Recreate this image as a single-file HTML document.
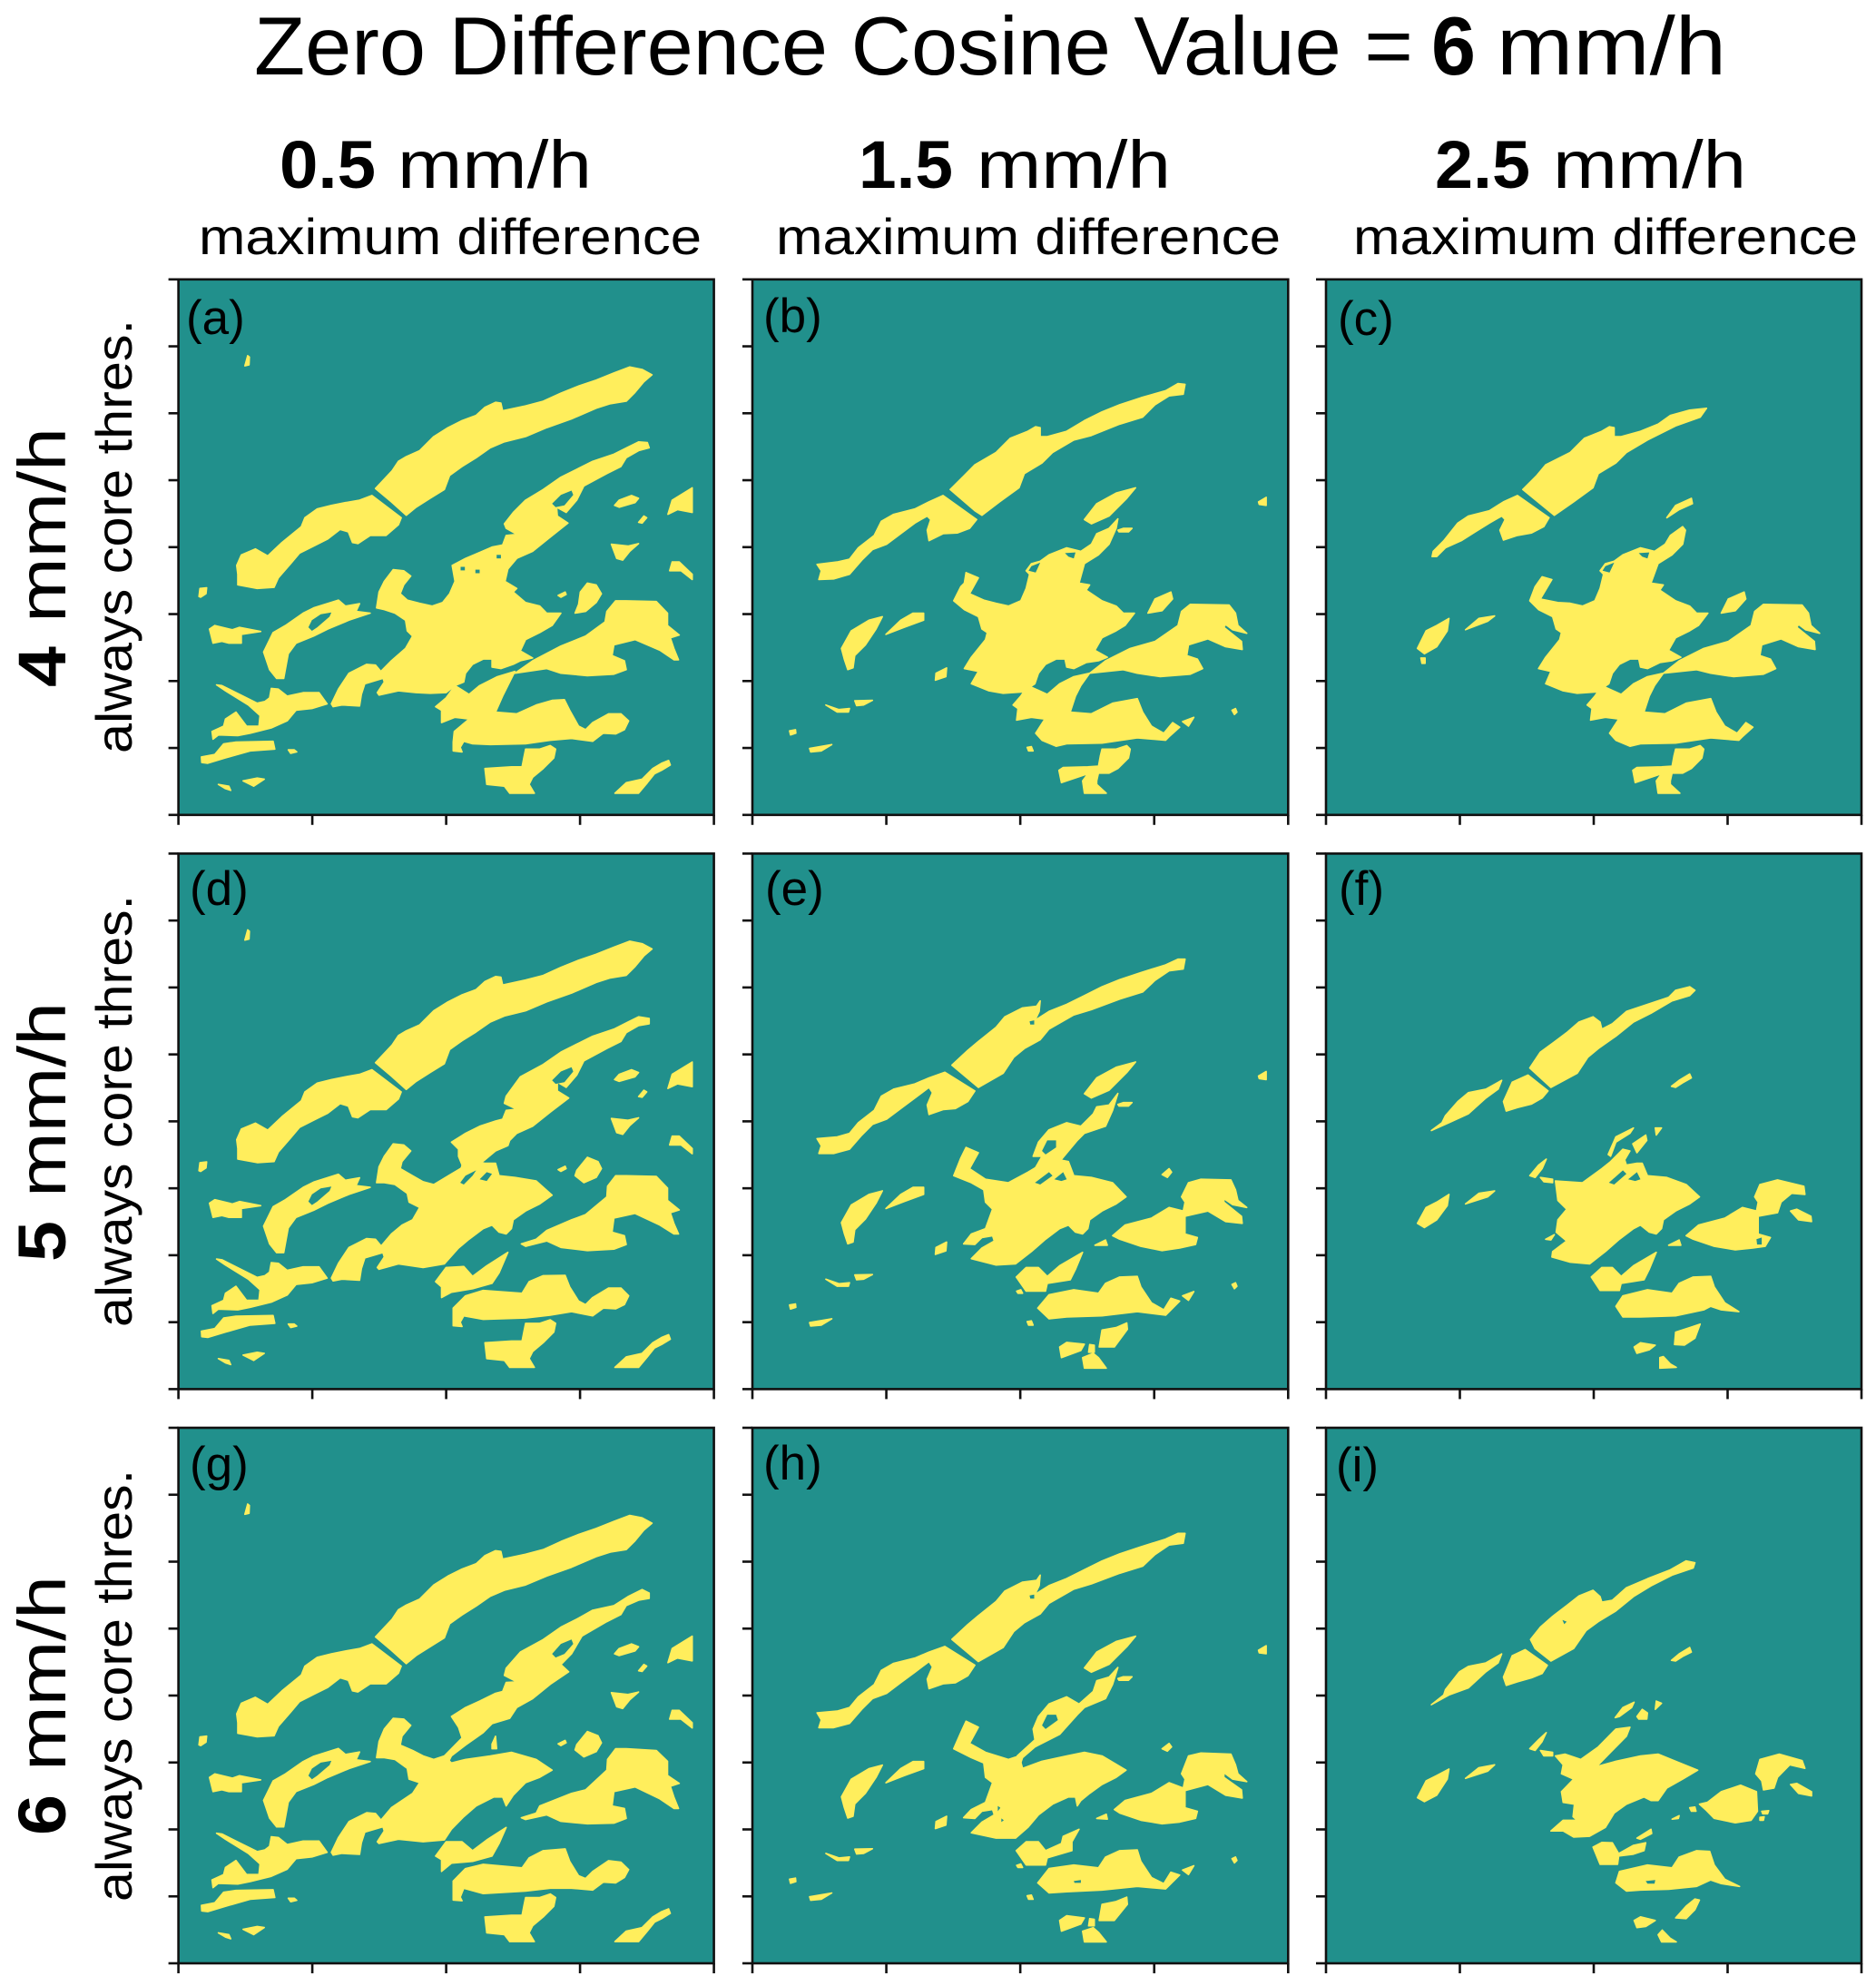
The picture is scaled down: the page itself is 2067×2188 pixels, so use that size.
<!DOCTYPE html>
<html lang="en">
<head>
<meta charset="utf-8">
<title>Zero Difference Cosine Value = 6 mm/h</title>
<style>
html,body{margin:0;padding:0;background:#fff;}
svg{display:block;}
text{font-family:"Liberation Sans",sans-serif;fill:#000;}
.t{font-size:91px;}
.h{font-size:74px;}
.s{font-size:56px;}
.b{font-weight:bold;}
</style>
</head>
<body>
<svg id="figure" xmlns="http://www.w3.org/2000/svg" width="2067" height="2188" viewBox="0 0 2067 2188">
<rect x="0" y="0" width="2067" height="2188" fill="#fff"/>
<g>
<text class="t" x="280" y="82" textLength="1277" lengthAdjust="spacingAndGlyphs">Zero Difference Cosine Value =</text>
<text class="t b" x="1577" y="82" textLength="49" lengthAdjust="spacingAndGlyphs">6</text>
<text class="t" x="1649" y="82" textLength="253" lengthAdjust="spacingAndGlyphs">mm/h</text>
</g>
<g>
<text class="h b" x="308" y="207" textLength="106" lengthAdjust="spacingAndGlyphs">0.5</text>
<text class="h" x="438" y="207" textLength="214" lengthAdjust="spacingAndGlyphs">mm/h</text>
<text class="s" x="219" y="280" textLength="554" lengthAdjust="spacingAndGlyphs">maximum difference</text>
<text class="h b" x="946" y="207" textLength="104" lengthAdjust="spacingAndGlyphs">1.5</text>
<text class="h" x="1076" y="207" textLength="214" lengthAdjust="spacingAndGlyphs">mm/h</text>
<text class="s" x="855" y="280" textLength="556" lengthAdjust="spacingAndGlyphs">maximum difference</text>
<text class="h b" x="1581" y="207" textLength="105" lengthAdjust="spacingAndGlyphs">2.5</text>
<text class="h" x="1711" y="207" textLength="213" lengthAdjust="spacingAndGlyphs">mm/h</text>
<text class="s" x="1491" y="280" textLength="556" lengthAdjust="spacingAndGlyphs">maximum difference</text>
</g>
<g>
<text class="h b" transform="translate(72 757) rotate(-90)" textLength="45" lengthAdjust="spacingAndGlyphs">4</text>
<text class="h" transform="translate(72 686) rotate(-90)" textLength="215" lengthAdjust="spacingAndGlyphs">mm/h</text>
<text class="s" transform="translate(145 830) rotate(-90)" textLength="478" lengthAdjust="spacingAndGlyphs">always core thres.</text>
<text class="h b" transform="translate(72 1390) rotate(-90)" textLength="45" lengthAdjust="spacingAndGlyphs">5</text>
<text class="h" transform="translate(72 1319) rotate(-90)" textLength="215" lengthAdjust="spacingAndGlyphs">mm/h</text>
<text class="s" transform="translate(145 1462) rotate(-90)" textLength="476" lengthAdjust="spacingAndGlyphs">always core thres.</text>
<text class="h b" transform="translate(72 2022) rotate(-90)" textLength="45" lengthAdjust="spacingAndGlyphs">6</text>
<text class="h" transform="translate(72 1951) rotate(-90)" textLength="215" lengthAdjust="spacingAndGlyphs">mm/h</text>
<text class="s" transform="translate(145 2095) rotate(-90)" textLength="476" lengthAdjust="spacingAndGlyphs">always core thres.</text>
</g>
</svg>
<script>
// Axis tick values in grid cells
const xTickValues = [0, 100, 200, 300, 400];
const yTickValues = [0, 50, 100, 150, 200, 250, 300, 350, 400];

// Contours: flat x,y lists at fine sampling
// --- column 1, row 1 ---
const aSpeck=[205,265,213,236,218,240,217,262];
const aU1=[575,612,622,562,640,535,662,522,700,505,740,465,780,440,820,420,860,405,885,382,915,368,930,370,935,392,1000,378,1050,365,1100,342,1150,322,1200,305,1250,285,1295,268,1330,275,1358,290,1335,310,1310,340,1285,365,1240,372,1200,385,1130,415,1060,440,1000,465,940,480,900,497,860,525,820,550,785,575,770,615,730,640,690,665,662,688,620,650];
const aU2=[565,632,648,695,640,715,605,745,560,745,525,768,510,765,498,735,475,728,440,755,400,775,360,795,335,825,300,865,288,892,240,895,185,885,185,855,182,830,195,800,235,783,270,803,310,765,365,720,375,695,410,670,450,660,490,652,530,645];
const aCenter=[625,842,655,845,675,860,655,885,645,910,665,928,700,937,735,945,765,935,785,910,800,875,792,830,830,810,870,793,905,778,935,772,945,745,975,742,945,725,940,712,965,680,1000,645,1050,615,1100,580,1150,555,1190,535,1250,515,1290,495,1320,480,1345,482,1350,497,1320,505,1285,525,1270,550,1230,570,1165,605,1145,645,1115,680,1088,665,1090,690,1120,710,1070,750,1020,790,975,810,950,840,942,875,975,895,965,905,1000,935,1040,945,1060,965,1100,965,1075,1000,1040,1020,1000,1040,985,1072,1020,1092,985,1100,965,1110,930,1122,905,1118,905,1095,880,1095,850,1110,830,1135,825,1160,800,1170,775,1190,730,1192,690,1190,640,1185,585,1197,580,1190,600,1160,590,1130,620,1100,660,1065,680,1030,665,1015,660,985,630,965,600,955,578,950,585,905,600,875];
const aZ=[800,1170,840,1195,870,1170,920,1145,970,1130,950,1170,935,1200,915,1245,975,1250,1030,1225,1075,1212,1110,1210,1125,1240,1150,1285,1170,1295,1190,1275,1235,1250,1270,1250,1292,1270,1280,1295,1255,1307,1220,1305,1190,1328,1130,1320,1070,1325,1000,1335,900,1337,850,1335,825,1328,815,1345,820,1358,795,1355,795,1330,798,1300,840,1265,800,1260,762,1275,762,1240,745,1230,775,1205];
const aBottom=[1000,1350,1040,1350,1070,1340,1085,1350,1080,1375,1050,1405,1020,1430,1010,1450,1025,1475,955,1475,940,1455,890,1450,885,1405,960,1400,990,1400,995,1375];
const aBottomRight=[1253,1475,1285,1445,1330,1435,1360,1405,1385,1390,1405,1382,1410,1395,1385,1410,1365,1420,1345,1445,1320,1475];
const aRight=[1020,1100,1100,1058,1170,1030,1225,990,1230,960,1255,930,1285,930,1370,932,1402,965,1402,1000,1435,1027,1410,1035,1420,1065,1433,1097,1420,1097,1380,1070,1310,1040,1250,1055,1245,1085,1280,1100,1285,1125,1250,1138,1175,1142,1100,1135,1060,1122,970,1135];
const aS1=[1252,660,1265,645,1300,632,1320,640,1310,652,1265,665];
const aS2=[1320,708,1335,690,1343,695,1330,710];
const aS3=[1403,685,1415,645,1472,610,1472,680,1430,672];
const aS4=[1243,770,1290,775,1320,768,1295,790,1275,815,1258,810];
const aS5=[1408,845,1415,820,1435,820,1472,855,1472,870,1440,845];
const aCloud=[1155,905,1175,880,1200,885,1215,910,1200,935,1170,960,1140,965,1150,940];
const aS7=[1092,915,1112,905,1115,912,1100,920];
const aL1=[75,918,78,895,97,893,95,910,80,920];
const aL2=[105,1010,120,1000,170,1012,190,1005,250,1017,195,1025,195,1050,160,1050,140,1045,115,1050];
const aL3=[258,1075,285,1020,320,1000,370,965,400,950,470,928,490,945,530,938,520,960,560,965,500,985,440,1010,400,1030,350,1050,328,1080,315,1150,295,1150,275,1125];
const aL3Hole=[385,1005,395,985,420,968,450,963,445,975,410,1005,395,1015];
const aL4=[450,1222,470,1180,500,1135,550,1110,575,1112,590,1130,595,1150,545,1165,535,1195,530,1228,480,1225,455,1230];
const aL5=[125,1168,140,1170,190,1195,240,1220,262,1215,275,1205,280,1178,300,1180,325,1200,370,1190,415,1190,438,1222,395,1235,350,1240,325,1270,280,1290,220,1305,185,1312,130,1310,115,1322,112,1300,145,1285,150,1265,180,1245,210,1285,245,1285,248,1255,215,1225,150,1185];
const aL6=[82,1372,120,1365,145,1335,180,1330,285,1328,290,1350,220,1355,150,1375,100,1390,83,1388];
const aL7=[328,1352,345,1352,352,1358,335,1362];
const aL8=[200,1440,240,1432,260,1435,230,1455];
const aL9=[130,1450,160,1455,165,1467,150,1462];
const aArmHole=[1075,655,1100,630,1130,618,1135,630,1110,660,1085,665];
const aDot1=[918,800,930,800,930,810,918,810];
const aDot2=[816,834,828,834,828,844,816,844];
const aDot3=[858,842,870,842,870,852,858,852];
const aScatter=[aSpeck,aU1,aU2,aBottom,aBottomRight,aS1,aS2,aS3,aS4,aS5,aS7,aL1,aL2,aL3,aL4,aL5,aL6,aL7,aL8,aL9];

// --- column 2, row 1 ---
const bU1=[570,615,610,575,640,545,700,510,740,470,790,450,812,437,825,440,825,465,845,465,900,450,950,420,1000,395,1050,375,1110,355,1180,335,1215,315,1235,317,1230,345,1190,350,1150,375,1115,410,1050,430,970,462,920,475,860,510,830,540,780,570,765,610,710,650,660,688,640,675];
const bU2=[550,632,645,700,625,725,590,738,550,740,510,760,505,730,515,700,505,690,470,710,430,740,390,770,350,785,320,815,285,855,240,868,198,870,205,845,193,827,250,820,285,812,310,780,355,745,375,705,410,685,470,670,510,650];
const bCenter=[615,850,650,865,625,910,665,928,700,937,735,945,770,930,785,895,795,855,785,845,800,825,825,818,850,800,900,780,940,790,970,770,985,740,1020,725,1045,698,1040,725,1020,770,990,800,950,825,935,880,965,885,955,900,1000,930,1040,945,1060,965,1092,965,1065,1000,1040,1015,1000,1035,980,1070,1015,1090,990,1100,955,1105,920,1122,900,1118,895,1095,870,1095,840,1110,820,1135,810,1165,775,1188,720,1192,680,1185,630,1165,650,1130,610,1122,630,1090,670,1040,675,1020,660,1010,650,975,610,955,580,930,600,890,610,880];
const bZ=[790,1170,845,1195,880,1165,920,1145,965,1135,940,1170,925,1200,910,1245,970,1250,1030,1220,1100,1207,1115,1245,1140,1285,1175,1305,1200,1275,1220,1288,1190,1315,1180,1325,1100,1318,1000,1333,900,1335,870,1342,830,1325,812,1305,838,1265,800,1260,758,1268,762,1235,748,1225,770,1200];
const bBottom=[1000,1350,1040,1350,1070,1340,1080,1350,1075,1375,1045,1405,1020,1418,990,1418,985,1440,985,1450,1012,1475,950,1475,945,1440,960,1420,885,1445,878,1410,890,1402,960,1400,990,1398,995,1370];
const bRight=[965,1135,1010,1100,1080,1065,1150,1045,1215,1000,1225,960,1250,940,1360,942,1378,965,1385,1000,1410,1022,1370,1012,1350,997,1345,1005,1395,1045,1397,1068,1350,1060,1300,1038,1245,1055,1240,1085,1270,1095,1285,1122,1250,1138,1165,1145,1100,1135,1060,1125];
const bN1=[950,700,985,655,1040,625,1095,610,1070,640,1020,690,970,712];
const bN2=[1045,730,1060,725,1085,725,1075,735,1048,735];
const bN3=[1443,650,1465,637,1465,660,1445,657];
const bN4=[1130,965,1150,925,1195,905,1200,925,1170,958];
const bL1=[262,1065,290,1015,340,985,378,975,360,1010,330,1055,300,1085,295,1120,280,1125,270,1095];
const bL2=[388,1025,430,985,465,965,495,965,495,985,440,1005];
const bL3=[528,1155,530,1135,560,1120,558,1145];
const bL4=[218,1225,255,1238,285,1235,282,1245,250,1245];
const bL5=[300,1213,350,1212,325,1225,305,1227];
const bL6=[115,1298,132,1295,133,1305,118,1310];
const bL7=[172,1348,235,1337,205,1355,175,1358];
const bD1=[788,1345,800,1343,805,1355,792,1355];
const bD2=[1368,1240,1378,1235,1382,1245,1375,1252];
const bD3=[1228,1272,1260,1260,1245,1285];
const bH1=[895,795,925,793,920,810,905,805];
const bH2=[800,832,825,822,812,850,792,845];
const bScatter=[bN1,bN2,bN3,bL1,bL2,bL3,bL4,bL5,bL6,bL7,bD1,bD2,bD3];

// --- column 3, row 1 ---
const cU1=[565,615,605,575,630,545,700,510,740,470,790,450,812,437,825,440,825,465,845,465,900,450,950,430,985,405,1040,390,1088,385,1070,410,1000,435,920,475,860,510,830,540,780,570,765,610,710,650,655,688];
const cU2=[550,632,640,695,625,720,590,738,550,745,510,758,500,730,515,700,505,690,470,710,430,735,390,760,345,780,320,805,307,805,310,790,340,760,380,710,410,690,470,675,510,650];
const cCenter=[620,862,648,870,615,925,665,935,700,937,735,945,770,930,785,895,795,855,785,845,800,825,825,818,850,800,900,780,940,790,970,770,985,745,1020,720,1028,730,1020,770,990,800,950,825,930,880,965,885,955,900,1000,930,1040,945,1060,965,1092,965,1065,1000,1040,1015,1000,1035,980,1070,1015,1090,990,1100,955,1105,920,1122,900,1118,895,1095,870,1095,840,1110,820,1135,810,1165,775,1188,720,1192,680,1185,630,1165,645,1130,610,1122,630,1090,670,1040,675,1020,660,1010,650,975,610,955,585,930,600,890];
const cL1=[265,1065,290,1015,320,1000,355,980,350,1015,320,1060,285,1080];
const cDot=[275,1092,287,1092,287,1107,278,1107];
const cL2=[402,1012,440,980,485,973,465,988];
const cN=[975,695,1000,660,1045,640,1048,655,1010,672];

// --- column 1, row 2 ---
const dArm=[1320,475,1350,480,1350,495,1320,500,1285,520,1270,545,1230,565,1165,600,1145,640,1115,675,1090,660,1090,685,1122,705,1070,745,1020,785,975,805,955,825,950,840,915,855,885,880,850,905,810,935,820,895,810,870,810,850,790,830,830,805,870,785,915,770,935,765,945,740,975,737,940,720,945,700,985,645,1050,610,1100,575,1150,550,1190,530,1250,510,1290,490];
const dArmHole=[1075,655,1100,630,1130,618,1135,630,1110,660,1085,665];
const dCenter=[625,835,655,838,675,855,650,885,645,905,680,925,710,942,740,950,790,920,815,905,850,880,885,890,905,890,915,890,925,925,970,930,1030,940,1075,980,1040,1005,1000,1025,965,1050,960,1075,945,1090,925,1085,905,1065,880,1075,840,1105,810,1130,770,1175,710,1185,640,1175,585,1190,580,1185,600,1155,590,1125,620,1090,650,1065,680,1050,700,1015,670,1000,665,975,630,950,600,945,578,945,585,900,600,870];
const dH1=[815,945,830,925,860,910,850,925,825,950];
const dH2=[870,935,890,915,905,920,890,940];
const dZ1=[745,1225,775,1185,825,1182,850,1210,890,1180,950,1142,925,1200,905,1230,850,1245,790,1255,762,1270,762,1240];
const dZ2=[795,1300,830,1265,880,1250,990,1258,1010,1225,1050,1208,1112,1207,1125,1240,1150,1280,1170,1290,1190,1270,1235,1243,1270,1243,1292,1265,1280,1290,1255,1302,1220,1300,1190,1322,1130,1310,1070,1320,1000,1328,880,1332,825,1322,815,1340,820,1352,795,1350];
const dRight=[988,1118,1030,1105,1060,1080,1130,1050,1170,1035,1230,985,1232,955,1255,925,1285,925,1370,927,1402,960,1402,995,1435,1022,1410,1030,1420,1060,1433,1090,1420,1090,1380,1065,1310,1032,1250,1045,1245,1085,1280,1095,1285,1120,1250,1133,1175,1137,1100,1128,1060,1110,1000,1125];
const dCloud=[1145,910,1175,873,1205,885,1215,905,1200,930,1165,945,1140,925];

// --- column 2, row 2 ---
const eU1=[575,612,620,570,650,545,700,505,725,475,775,450,815,445,825,430,822,460,810,485,850,460,900,440,950,415,1000,390,1050,370,1110,350,1180,328,1215,312,1235,312,1230,340,1190,345,1150,372,1115,405,1050,425,970,455,920,470,850,510,825,540,780,565,750,590,720,635,650,675];
const eU2=[555,632,640,685,620,715,585,735,550,738,510,752,505,725,520,690,510,675,470,705,430,735,390,765,350,780,320,810,285,850,240,862,198,862,205,840,193,820,250,815,285,805,310,775,355,740,375,700,410,680,470,665,510,648];
const eArm=[1045,692,1030,740,1010,785,950,805,930,825,880,885,810,905,830,870,805,870,820,830,850,795,900,775,940,785,975,750,985,730,1020,725];
const eArmHole=[830,855,845,825,870,825,870,845,840,865];
const eCenter=[615,845,650,860,625,905,670,935,735,945,790,915,840,885,880,880,905,885,920,925,970,930,1030,945,1068,985,1040,1005,1000,1025,965,1050,960,1075,945,1090,925,1085,905,1065,880,1075,840,1105,800,1140,755,1175,700,1178,630,1160,660,1130,695,1110,690,1095,660,1100,640,1120,608,1118,630,1090,670,1075,690,1020,670,1000,665,965,630,945,580,925,600,875];
const eH1=[810,945,850,915,860,925,825,950];
const eH2=[865,935,890,915,900,935,885,940];
const eRight=[1030,1095,1065,1065,1140,1045,1190,1015,1230,1025,1235,1000,1225,985,1245,945,1280,935,1365,937,1378,965,1385,995,1410,1015,1370,1007,1345,990,1345,1000,1395,1040,1397,1060,1350,1055,1300,1025,1235,1040,1235,1090,1270,1100,1265,1120,1220,1130,1170,1137,1110,1125,1050,1105];
const eM1=[980,1122,1010,1107,1015,1122];
const eZ1=[757,1212,785,1185,820,1185,845,1210,880,1180,945,1142,925,1190,910,1220,845,1230,840,1252,785,1252];
const eZ2=[818,1300,850,1262,920,1248,990,1258,1010,1230,1050,1212,1100,1210,1110,1240,1140,1285,1175,1305,1195,1272,1220,1280,1180,1320,1100,1310,1000,1322,900,1325,850,1330];
const eM2=[758,1252,770,1248,775,1258,762,1258];
const eB1=[1000,1362,1040,1355,1070,1342,1072,1360,1035,1410,992,1410];
const eB2=[880,1410,900,1397,950,1402,940,1420,885,1440];
const eB3=[965,1403,978,1405,978,1425,962,1425];
const eB4=[945,1440,975,1428,990,1440,1012,1470,950,1470];
const eN4=[1170,922,1190,905,1197,915,1185,930];
const eDot=[795,488,808,485,808,497,797,497];

// --- column 3, row 2 ---
const fU1=[585,620,615,575,650,550,690,520,725,490,765,475,785,490,790,510,820,495,860,460,920,440,980,420,1000,400,1040,390,1055,400,1040,415,990,430,930,465,880,490,830,530,780,565,750,590,720,635,645,675];
const fU2=[580,640,637,685,620,705,590,722,550,732,518,742,510,715,535,660];
const fU3=[305,797,335,775,345,755,380,715,410,690,460,680,505,655,495,680,460,705,410,750,355,775];
const fL1=[265,1060,290,1015,320,1000,355,978,350,1010,320,1050,285,1072];
const fL2=[402,1005,440,975,485,968,465,985];
const fN=[988,672,1010,655,1040,637,1045,648,1020,662,1000,675];
const fCenter=[658,940,735,945,790,905,815,885,850,850,870,855,855,880,860,895,890,890,905,890,920,925,975,930,1030,950,1068,985,1040,1005,1000,1025,965,1050,960,1075,945,1090,925,1085,900,1065,880,1075,840,1105,800,1140,755,1175,700,1170,648,1155,650,1140,690,1110,660,1085,665,1050,690,1020,665,995];
const fH1=[810,945,850,910,860,920,825,950];
const fH2=[865,935,890,915,900,935,885,940];
const fA1=[808,865,830,815,880,790,870,805,830,830,815,870];
const fA2=[878,835,915,810,918,825,890,860];
const fA3=[942,790,960,790,945,810];
const fK1=[585,925,610,895,632,878,620,905,600,930];
const fK2=[615,930,650,935,650,945,625,942];
const fM=[630,1105,655,1092,645,1107];
const fRight=[1030,1095,1065,1065,1140,1045,1190,1015,1230,1025,1235,1000,1225,985,1240,950,1290,937,1365,955,1368,978,1330,975,1300,1000,1290,1030,1235,1040,1235,1090,1270,1100,1255,1125,1220,1130,1170,1135,1110,1125,1050,1105];
const fRightHole=[1230,1105,1245,1100,1245,1120,1232,1120];
const fR2=[1327,1025,1345,1020,1385,1040,1387,1055,1350,1050];
const fZ2=[830,1295,850,1265,920,1248,990,1258,1010,1230,1050,1212,1100,1210,1110,1240,1140,1285,1180,1310,1130,1305,1100,1295,1080,1305,1000,1322,900,1325,850,1325];
const fZ1=[760,1212,790,1185,820,1185,845,1210,880,1180,945,1142,925,1190,910,1220,845,1230,840,1250,785,1250];
const fB1=[1000,1368,1040,1355,1070,1345,1055,1385,1025,1405,997,1403];
const fB2=[882,1410,900,1398,942,1405,925,1418,890,1428];
const fB3=[955,1440,965,1437,985,1458,1002,1468,955,1470];

// --- column 1, row 3 ---
const gArm=[1330,460,1350,470,1350,485,1320,490,1285,505,1270,530,1230,550,1160,590,1130,640,1100,670,1122,690,1070,725,1020,765,975,790,955,820,905,835,880,860,830,895,790,925,780,945,770,925,820,875,810,845,790,815,830,790,870,772,915,750,935,745,945,720,975,718,940,700,945,680,985,635,1050,600,1100,565,1150,540,1190,518,1250,505,1290,480];
const gArmHole=[1075,640,1100,612,1130,600,1135,612,1110,640,1085,650];
const gCenter=[625,820,655,822,675,840,650,870,645,895,680,910,710,925,740,935,770,925,790,945,830,935,900,925,960,915,1030,935,1075,965,1040,985,1000,1000,965,1035,945,1065,935,1040,910,1040,860,1065,825,1095,790,1130,770,1160,710,1165,640,1158,585,1170,580,1165,600,1135,590,1105,620,1070,650,1050,680,1030,700,1000,670,990,665,960,630,935,600,930,578,930,585,885,600,850];
const gSmall=[905,892,915,870,918,905,905,905];
const gZ1=[745,1205,775,1165,820,1165,850,1190,890,1160,945,1125,925,1170,905,1205,850,1220,790,1225,762,1248,762,1215];
const gZ2=[795,1275,830,1240,880,1228,990,1238,1010,1210,1050,1190,1112,1185,1125,1220,1150,1260,1170,1268,1190,1248,1235,1218,1270,1222,1292,1243,1280,1265,1255,1280,1220,1278,1190,1300,1130,1295,1070,1295,1000,1303,880,1310,825,1295,815,1320,820,1330,795,1328];
const gRight=[988,1098,1030,1085,1040,1065,1130,1030,1170,1020,1230,965,1232,935,1255,905,1285,905,1370,910,1402,940,1402,980,1435,1002,1410,1010,1420,1040,1433,1072,1420,1072,1380,1045,1310,1012,1250,1025,1245,1065,1280,1072,1285,1100,1250,1113,1175,1115,1100,1108,1060,1090,1000,1103];

// --- column 2, row 3 ---
const hArm=[1045,678,1030,725,1010,765,950,790,930,810,880,865,810,900,775,930,770,945,760,925,810,880,805,850,820,815,850,780,900,760,935,780,975,745,985,715,1020,705];
const hArmHole=[830,840,845,810,870,810,875,825,840,850];
const hCenter=[615,828,650,845,625,890,670,915,735,935,765,925,775,960,830,940,900,925,950,915,1000,925,1068,965,1040,985,1000,1005,965,1030,940,1050,930,1065,925,1040,905,1040,860,1060,820,1090,790,1125,755,1155,700,1155,630,1140,660,1110,695,1090,690,1075,660,1080,640,1100,608,1098,630,1075,670,1055,690,1000,670,985,665,945,630,930,580,905,600,860];
const hH1=[705,1065,712,1070,705,1080];
const hH2=[715,1100,722,1105,715,1110];
const hRight=[1035,1075,1065,1050,1140,1030,1190,1000,1230,1015,1235,990,1225,975,1245,925,1280,917,1365,920,1378,950,1385,975,1410,997,1370,990,1345,972,1345,985,1395,1020,1397,1043,1350,1035,1300,1005,1235,1022,1235,1070,1270,1080,1265,1100,1220,1110,1170,1115,1110,1105,1050,1085];
const hM=[985,1100,1012,1088,1015,1102];
const hZ1=[757,1190,785,1165,820,1165,840,1190,885,1170,890,1150,935,1130,915,1165,915,1190,845,1210,840,1230,785,1230];
const hZ2=[818,1280,850,1240,920,1230,990,1238,1010,1208,1050,1190,1100,1188,1110,1220,1140,1265,1175,1282,1195,1250,1220,1258,1180,1297,1100,1290,1000,1300,900,1305,850,1308];
const hZHole=[920,1275,940,1272,940,1280,922,1280];
const hB1=[1000,1340,1040,1332,1070,1320,1072,1340,1035,1385,992,1385];
const hB2=[880,1385,900,1372,950,1378,940,1395,885,1415];
const hB3=[965,1380,978,1382,978,1400,962,1400];
const hB4=[945,1415,975,1405,990,1418,1012,1445,950,1445];
const hN4=[1170,905,1190,890,1197,900,1185,912];

// --- column 3, row 3 ---
const iU1=[587,600,615,565,650,535,690,505,725,478,765,462,785,480,790,495,820,490,860,455,920,430,985,405,1030,380,1055,385,1050,400,990,420,930,450,880,480,830,520,780,550,745,575,710,625,645,660,600,625];
const iUHole=[678,545,690,550,683,557];
const iU2=[572,628,635,672,620,695,590,707,550,718,518,728,510,705,535,645];
const iU3=[305,782,340,755,345,740,385,690,410,675,460,665,505,640,495,665,460,690,410,735,355,755];
const iL1=[265,1042,290,995,320,980,355,962,350,990,320,1035,285,1053];
const iL2=[402,988,440,958,485,950,465,968];
const iN=[988,658,1010,640,1040,622,1045,635,1020,647,1000,660];
const iK1=[585,905,610,880,632,860,620,885,600,910];
const iK2=[615,910,650,915,650,925,625,925];
const iCenter=[658,925,685,920,730,935,780,900,830,850,870,845,860,870,815,915,775,955,830,940,900,925,950,920,1000,940,1063,965,1020,990,975,1015,950,1050,930,1050,910,1040,860,1060,825,1085,800,1125,755,1150,710,1152,680,1135,645,1135,680,1105,720,1105,708,1095,712,1060,680,1055,675,1025,710,990,675,975,680,950];
const iA1=[828,818,850,790,882,775,875,790,840,815];
const iA2=[890,815,905,795,920,805,918,822,895,822];
const iA3=[942,795,945,772,960,778];
const iR1=[1068,1060,1090,1055,1130,1025,1185,1007,1230,1025,1233,1080,1215,1105,1170,1112,1110,1100,1085,1075];
const iR2=[1228,975,1240,935,1295,920,1360,938,1368,960,1325,950,1290,985,1280,1015,1250,1020,1245,995];
const iR3=[1327,1005,1345,1002,1387,1025,1387,1037,1350,1030];
const iM1=[1040,1070,1055,1068,1058,1080,1045,1080];
const iM2=[1245,1080,1265,1078,1262,1087,1248,1087];
const iM3=[1240,1097,1252,1095,1250,1105,1240,1105];
const iM4=[990,1102,1010,1092,1008,1100];
const iZ1=[765,1180,790,1167,820,1168,838,1198,880,1175,915,1168,910,1190,880,1200,838,1205,835,1228,785,1228];
const iZ2=[890,1155,930,1130,932,1142,900,1158];
const iZ3=[830,1280,840,1248,920,1230,990,1238,1010,1208,1060,1190,1097,1192,1110,1230,1140,1270,1182,1290,1130,1282,1100,1272,1060,1290,980,1298,900,1300,860,1303];
const iZHole=[915,1275,942,1272,940,1282,920,1282];
const iB1=[1000,1378,1030,1345,1055,1325,1068,1328,1055,1355,1030,1380];
const iB2=[882,1385,900,1375,942,1385,915,1402,890,1405];
const iB3=[950,1425,962,1412,985,1435,1002,1445,960,1445];

// Panel contents by reading frame (r1, r2, r3 = the row the contour was read from)
const panelLabels = ['(a)','(b)','(c)','(d)','(e)','(f)','(g)','(h)','(i)'];
const panelShapes = [
  {r1:[...aScatter,aCenter,aZ,aRight,aCloud]},
  {r1:[bU1,bU2,bCenter,bZ,bBottom,bRight,bN4,...bScatter]},
  {r1:[cU1,cU2,cCenter,bZ,bBottom,bRight,bN4,cL1,cDot,cL2,cN]},
  {r1:aScatter,r2:[dArm,dCenter,dZ1,dZ2,dRight,dCloud]},
  {r1:bScatter,r2:[eU1,eU2,eArm,eCenter,eRight,eM1,eZ1,eZ2,eM2,eB1,eB2,eB3,eB4,eN4]},
  {r2:[fU1,fU2,fU3,fL1,fL2,fN,fCenter,fA1,fA2,fA3,fK1,fK2,fM,fRight,fR2,eM1,fZ1,fZ2,fB1,fB2,fB3]},
  {r1:aScatter,r2:[dCloud],r3:[gArm,gCenter,gSmall,gZ1,gZ2,gRight]},
  {r1:bScatter,r2:[eU1,eU2,eM2],r3:[hArm,hCenter,hRight,hM,hZ1,hZ2,hB1,hB2,hB3,hB4,hN4]},
  {r3:[iU1,iU2,iU3,iL1,iL2,iN,iK1,iK2,iCenter,iA1,iA2,iA3,iR1,iR2,iR3,iM1,iM2,iM3,iM4,iZ1,iZ2,iZ3,iB1,iB2,iB3]}
];
const panelHoles = [
  {r1:[aL3Hole,aArmHole,aDot1,aDot2,aDot3]},
  {r1:[bH1,bH2]},
  {r1:[bH1,bH2]},
  {r1:[aL3Hole],r2:[dArmHole,dH1,dH2]},
  {r2:[eArmHole,eH1,eH2,eDot]},
  {r2:[fH1,fH2,fRightHole]},
  {r1:[aL3Hole],r3:[gArmHole]},
  {r2:[eDot],r3:[hArmHole,hH1,hH2,hZHole]},
  {r3:[iUHole,iZHole]}
];

const TEAL = '#21908c';
const YELLOW = '#ffee5c';
const AXIS_MAX = 400;
const colLeft = [196.6, 829, 1461];
const colWidth = [590, 590.3, 590];
const rowTop = [307.8, 940.4, 1573];
const rowHeight = 590;
const colSampleOrigin = [17, 10, 5];
const colSampleScale = [2.57, 2.57, 2.583];
const frames = {r1:{y0:20,k:2.57}, r2:{y0:13,k:2.57}, r3:{y0:8,k:2.537}};
const labelX = [205,841,1474,209,843,1475,209,841,1472];
const labelY = [368,366,369,997,997,997,1631,1630,1632];

const svgNS = 'http://www.w3.org/2000/svg';
const figure = document.getElementById('figure');

function xAxis(col, v){ return colLeft[col] + v / AXIS_MAX * colWidth[col]; }
function yAxis(row, v){ return rowTop[row] + v / AXIS_MAX * rowHeight; }
// contour sampling → grid cells
function gridX(col, raw){ return (raw - colSampleOrigin[col]) / colSampleScale[col] / colWidth[col] * AXIS_MAX; }
function gridY(frame, raw){ return (raw - frame.y0) / frame.k / rowHeight * AXIS_MAX; }

function polygonPoints(contour, col, row, frame){
  const pts = [];
  for (let i = 0; i < contour.length; i += 2) {
    pts.push(xAxis(col, gridX(col, contour[i])).toFixed(1) + ',' + yAxis(row, gridY(frame, contour[i+1])).toFixed(1));
  }
  return pts.join(' ');
}

function addLayer(group, layer, col, row, fill, strokeWidth, name){
  Object.keys(layer).forEach(function(key){
    layer[key].forEach(function(contour){
      const poly = document.createElementNS(svgNS, 'polygon');
      poly.setAttribute('points', polygonPoints(contour, col, row, frames[key]));
      poly.setAttribute('fill', fill);
      poly.setAttribute('stroke', fill);
      poly.setAttribute('stroke-width', strokeWidth);
      poly.setAttribute('stroke-linejoin', 'round');
      
      
      group.appendChild(poly);
    });
  });
}

panelLabels.forEach(function(label, idx){
  const col = idx % 3;
  const row = Math.floor(idx / 3);
  const letter = label.charAt(1);
  const g = document.createElementNS(svgNS, 'g');
  
  
  figure.appendChild(g);

  const bg = document.createElementNS(svgNS, 'rect');
  bg.setAttribute('x', xAxis(col, 0));
  bg.setAttribute('y', yAxis(row, 0));
  bg.setAttribute('width', colWidth[col]);
  bg.setAttribute('height', rowHeight);
  bg.setAttribute('fill', TEAL);
  
  
  g.appendChild(bg);

  addLayer(g, panelShapes[idx], col, row, YELLOW, '1.6', 'rain-region');
  addLayer(g, panelHoles[idx], col, row, TEAL, '0', 'rain-region-gap');

  const frameRect = document.createElementNS(svgNS, 'rect');
  frameRect.setAttribute('x', xAxis(col, 0));
  frameRect.setAttribute('y', yAxis(row, 0));
  frameRect.setAttribute('width', colWidth[col]);
  frameRect.setAttribute('height', rowHeight);
  frameRect.setAttribute('fill', 'none');
  frameRect.setAttribute('stroke', '#111');
  frameRect.setAttribute('stroke-width', '2.6');
  
  
  g.appendChild(frameRect);

  xTickValues.forEach(function(v){
    const t = document.createElementNS(svgNS, 'line');
    const x = xAxis(col, v);
    t.setAttribute('x1', x);
    t.setAttribute('x2', x);
    t.setAttribute('y1', yAxis(row, AXIS_MAX));
    t.setAttribute('y2', yAxis(row, AXIS_MAX) + 11);
    t.setAttribute('stroke', '#111');
    t.setAttribute('stroke-width', '2.6');
    
    
    g.appendChild(t);
  });
  yTickValues.forEach(function(v){
    const t = document.createElementNS(svgNS, 'line');
    const y = yAxis(row, v);
    t.setAttribute('y1', y);
    t.setAttribute('y2', y);
    t.setAttribute('x1', xAxis(col, 0));
    t.setAttribute('x2', xAxis(col, 0) - 11);
    t.setAttribute('stroke', '#111');
    t.setAttribute('stroke-width', '2.6');
    
    
    g.appendChild(t);
  });

  const tx = document.createElementNS(svgNS, 'text');
  tx.setAttribute('x', labelX[idx]);
  tx.setAttribute('y', labelY[idx]);
  tx.setAttribute('font-size', '53');
  
  
  tx.textContent = label;
  g.appendChild(tx);
});
</script>
</body>
</html>
